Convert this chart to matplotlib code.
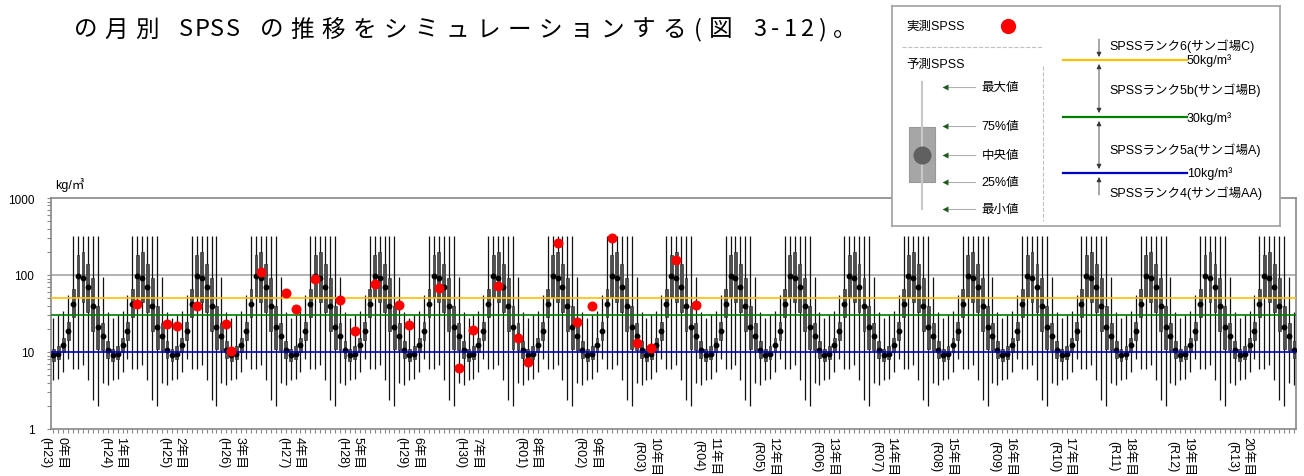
import unicodedata
import numpy as np
import matplotlib
matplotlib.use("Agg")
import matplotlib.pyplot as plt
from matplotlib.patches import Rectangle
from matplotlib.ticker import FixedLocator, NullFormatter

plt.rcParams['font.family'] = ['Liberation Sans', 'Noto Sans CJK JP', 'DejaVu Sans']

# predicted SPSS per calendar month (same pattern every simulated year)
month_min = [4.3, 4.4, 5.5, 8.0, 6.1, 6.0, 6.7, 4.3, 2.4, 2.0, 4.0, 3.7]
month_q1 = [7.7, 8.0, 10.0, 14.4, 28.4, 52.5, 44, 33, 19, 11, 10.7, 8.3]
month_med = [9.1, 9.5, 12.2, 18.5, 42, 96, 91, 69, 40, 21, 16, 10.5]
month_q3 = [11.0, 11.8, 15.3, 24.4, 66, 183, 196, 141, 91, 39, 24, 14]
month_max = [27.8, 29.8, 33.9, 55, 323, 323, 323, 323, 323, 323, 93, 33]

year_labels = ["0年目\n(H23)", "1年目\n(H24)", "2年目\n(H25)", "3年目\n(H26)",
               "4年目\n(H27)", "5年目\n(H28)", "6年目\n(H29)", "7年目\n(H30)",
               "8年目\n(R01)", "9年目\n(R02)", "10年目\n(R03)", "11年目\n(R04)",
               "12年目\n(R05)", "13年目\n(R06)", "14年目\n(R07)", "15年目\n(R08)",
               "16年目\n(R09)", "17年目\n(R10)", "18年目\n(R11)", "19年目\n(R12)",
               "20年目\n(R13)"]

# measured SPSS (month index from start, value)
obs_month = [17, 23, 25, 29, 35, 36, 42, 47, 49, 53, 58, 61, 65, 70, 72, 78, 82,
             85, 90, 94, 96, 102, 106, 109, 113, 118, 121, 126, 130]
obs_value = [41.8, 22.8, 21.9, 40.1, 22.8, 10.2, 108, 59.2, 35.9, 89.8, 48.0, 18.7,
             76.6, 40.9, 22.3, 67.3, 6.15, 19.1, 72.8, 15.2, 7.4, 264, 24.7, 40.1,
             304, 13.2, 11.2, 155, 41.3]

rank_values = [50, 30, 10]
rank_colors = ['#ffc000', '#008000', '#0000cc']

title = 'の月別 SPSS の推移をシミュレーションする(図 3-12)。'

W, H = 1304, 477
fig = plt.figure(figsize=(W / 100, H / 100), dpi=100)

n_years = len(year_labels)
idx = np.arange(n_years * 12)
lo = np.tile(month_min, n_years)
q1 = np.tile(month_q1, n_years)
med = np.tile(month_med, n_years)
q3 = np.tile(month_q3, n_years)
hi = np.tile(month_max, n_years)

ax = fig.add_axes([51 / W, 1 - 430 / H, (1296 - 51) / W, (430 - 199) / H])
ax.set_yscale('log')
ax.vlines(idx, lo, hi, color='#111111', lw=0.9, zorder=2)
ax.bar(idx, q3 - q1, bottom=q1, width=0.58, color='#505050',
       edgecolor='#1a1a1a', linewidth=0.4, zorder=3)
ax.plot(idx, med, 'o', color='black', ms=3.2, zorder=4)
ax.axhline(100, color='#a6a6a6', lw=1.2, zorder=1)
for v, c in zip(rank_values, rank_colors):
    ax.axhline(v, color=c, lw=1.2, zorder=5)
ax.plot(obs_month, obs_value, 'o', color='red', ms=7.2, mec='none', zorder=6)

ax.set_xlim(-0.47, len(idx) - 0.6)
ax.set_ylim(1, 1000)
ax.set_yticks([1, 10, 100, 1000])
ax.set_yticklabels(['1', '10', '100', '1000'], fontsize=8.5)
ax.yaxis.set_minor_locator(FixedLocator([m * 10 ** e for e in range(3) for m in range(2, 10)]))
ax.yaxis.set_minor_formatter(NullFormatter())
ax.set_xticks(np.arange(0, len(idx), 12))
ax.set_xticklabels(year_labels, rotation=270, fontsize=9, linespacing=1.4,
                   ha='center', va='top')
ax.xaxis.set_minor_locator(FixedLocator(idx))
ax.tick_params(axis='both', which='both', direction='out', length=3,
               color='#888888', width=0.8)
ax.tick_params(axis='y', which='major', pad=9)
ax.tick_params(axis='x', which='major', pad=2)
for s in ax.spines.values():
    s.set_color('#888888')
    s.set_linewidth(1.2)

fig.text(55 / W, 1 - 185 / H, 'kg/㎥', fontsize=9, va='center')

# body-text line above the chart, laid out on a full-width / half-width grid
pitch = 31.0
xpos = 70.0
for ch in title:
    cell = pitch if unicodedata.east_asian_width(ch) in 'WF' else pitch / 2
    if ch != ' ':
        fig.text((xpos + cell / 2) / W, 1 - 30 / H, ch, fontsize=17, ha='center',
                 va='center', family=['Noto Sans CJK JP', 'DejaVu Sans'])
    xpos += cell

# legend panel
lg = fig.add_axes([891.7 / W, 1 - 226.7 / H, 388.3 / W, 219.4 / H], zorder=10)
lg.set_xlim(891.7, 1280)
lg.set_ylim(226.7, 7.3)
lg.set_xticks([])
lg.set_yticks([])
for s in lg.spines.values():
    s.set_color('#a0a0a0')
    s.set_linewidth(1.2)

fs = 9
lg.text(906.7, 27, '実測SPSS', fontsize=fs, va='center')
lg.plot(1008, 27, 'o', color='red', ms=11, mec='none')
lg.plot([901.7, 1043], [48.3, 48.3], ls='--', color='#c0c0c0', lw=0.8)
lg.text(906.7, 65, '予測SPSS', fontsize=fs, va='center')
lg.plot([922.3, 922.3], [83, 210], color='#c8c8c8', lw=1.5)
lg.add_patch(Rectangle((909.3, 128.3), 25.7, 55, facecolor='#a6a6a6',
                       edgecolor='#999999', lw=0.8))
lg.plot(922.3, 155.7, 'o', color='#606060', ms=13, mec='none')
for y, t in zip([88, 127, 155.7, 183.3, 210], ['最大値', '75%値', '中央値', '25%値', '最小値']):
    lg.plot([946, 975], [y, y], color='#b0b0b0', lw=0.8)
    lg.plot(945, y, '<', color='#1e5a1e', ms=4, mec='none')
    lg.text(981.7, y, t, fontsize=fs, va='center')
lg.plot([1043.3, 1043.3], [66.7, 221.7], ls='--', color='#c0c0c0', lw=0.8)

for v, c, y in zip(rank_values, rank_colors, [61, 118.3, 174]):
    lg.plot([1063, 1186.7], [y, y], color=c, lw=1.6)
    lg.text(1186.7, y, f'{v}kg/m³', fontsize=fs, va='center')

arrow_kw = dict(arrowstyle='-|>', color='#333333', lw=0.6, mutation_scale=7,
                shrinkA=0, shrinkB=0)
both_kw = dict(arrow_kw, arrowstyle='<|-|>')
lg.annotate('', xy=(1099, 58), xytext=(1099, 40), arrowprops=arrow_kw)
lg.annotate('', xy=(1099, 65), xytext=(1099, 114), arrowprops=both_kw)
lg.annotate('', xy=(1099, 122), xytext=(1099, 170), arrowprops=both_kw)
lg.annotate('', xy=(1099, 178), xytext=(1099, 196), arrowprops=arrow_kw)
for y, t in zip([46.7, 90, 150, 193.3], ['SPSSランク6(サンゴ場C)', 'SPSSランク5b(サンゴ場B)',
                                          'SPSSランク5a(サンゴ場A)', 'SPSSランク4(サンゴ場AA)']):
    lg.text(1109.3, y, t, fontsize=fs, va='center')

fig.savefig('out.png', dpi=100)
